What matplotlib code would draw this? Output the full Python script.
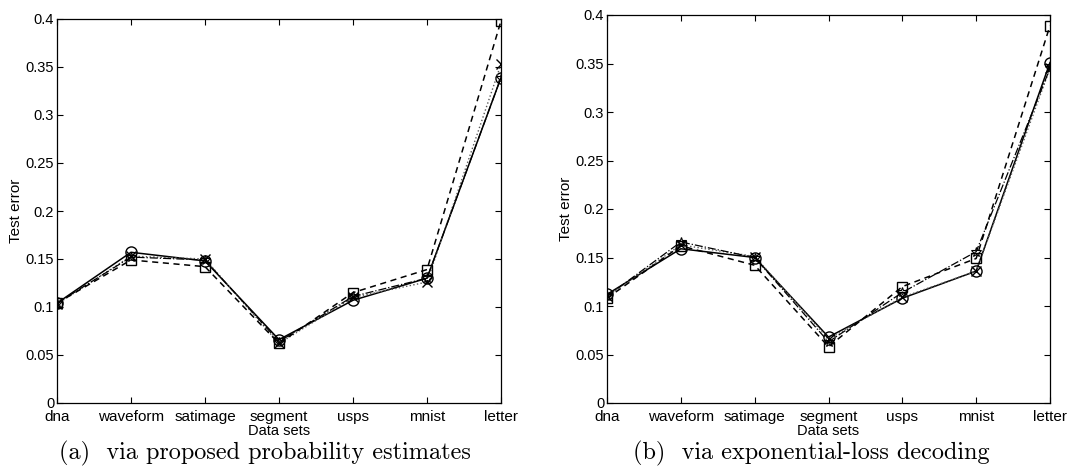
import matplotlib
matplotlib.use('Agg')
import matplotlib.pyplot as plt
import numpy as np

datasets = ['dna', 'waveform', 'satimage', 'segment', 'usps', 'mnist', 'letter']

# (a) via proposed probability estimates
a_circle = [0.104, 0.157, 0.148, 0.066, 0.107, 0.130, 0.339]
a_cross = [0.103, 0.153, 0.150, 0.062, 0.110, 0.126, 0.353]
a_square = [0.104, 0.149, 0.142, 0.062, 0.115, 0.139, 0.398]
a_star = [0.104, 0.152, 0.149, 0.064, 0.111, 0.130, 0.339]

# (b) via exponential-loss decoding
b_circle = [0.112, 0.159, 0.150, 0.068, 0.108, 0.136, 0.351]
b_cross = [0.110, 0.163, 0.151, 0.066, 0.109, 0.136, 0.345]
b_square = [0.108, 0.162, 0.142, 0.058, 0.120, 0.149, 0.389]
b_star = [0.110, 0.166, 0.150, 0.063, 0.114, 0.156, 0.345]

yticks = [0, 0.05, 0.1, 0.15, 0.2, 0.25, 0.3, 0.35, 0.4]
ytick_labels = ['0', '0.05', '0.1', '0.15', '0.2', '0.25', '0.3', '0.35', '0.4']

plt.rcParams['font.family'] = ['Liberation Sans', 'DejaVu Sans']

fig = plt.figure(figsize=(10.67, 4.66), dpi=100)
ax_a = fig.add_axes([57/1067, 1 - 403/466, 444/1067, 384/466])
ax_b = fig.add_axes([607/1067, 1 - 403/466, 443/1067, 388/466])

x = np.arange(len(datasets))

def draw(ax, circ, cross, sq, star, caption, cap_x):
    ax.plot(x, circ, '-', color='black', lw=1.1, marker='o', ms=8, mfc='none', mew=1.0)
    ax.plot(x, cross, ':', color='0.35', lw=1.0, marker='x', ms=7, mew=1.0, mec='black')
    ax.plot(x, sq, '--', color='black', lw=1.1, marker='s', ms=7, mfc='none', mew=1.0, dashes=(4, 3))
    ax.plot(x, star, '-.', color='black', lw=0.9, marker='*', ms=7, mfc='none', mew=0.8)
    ax.set_xlim(0, len(datasets) - 1)
    ax.set_ylim(0, 0.4)
    ax.set_xticks(x)
    ax.set_xticklabels(datasets, fontsize=11)
    ax.set_yticks(yticks)
    ax.set_yticklabels(ytick_labels, fontsize=10.5)
    ax.tick_params(direction='in', top=True, right=True, length=4, width=0.8, pad=2)
    ax.tick_params(axis='x', pad=5)
    for s in ax.spines.values():
        s.set_linewidth(0.9)
    ax.set_xlabel('Data sets', fontsize=10.5, labelpad=0)
    ax.set_ylabel('Test error', fontsize=11, labelpad=2)
    fig.text(cap_x / 1067, 1 - 453/466, caption, ha='center', va='center',
             fontsize=17.5, family='cmr10')

draw(ax_a, a_circle, a_cross, a_square, a_star, '(a)  via proposed probability estimates', 265)
draw(ax_b, b_circle, b_cross, b_square, b_star, '(b)  via exponential-loss decoding', 811)

fig.savefig('out.png', dpi=100)
